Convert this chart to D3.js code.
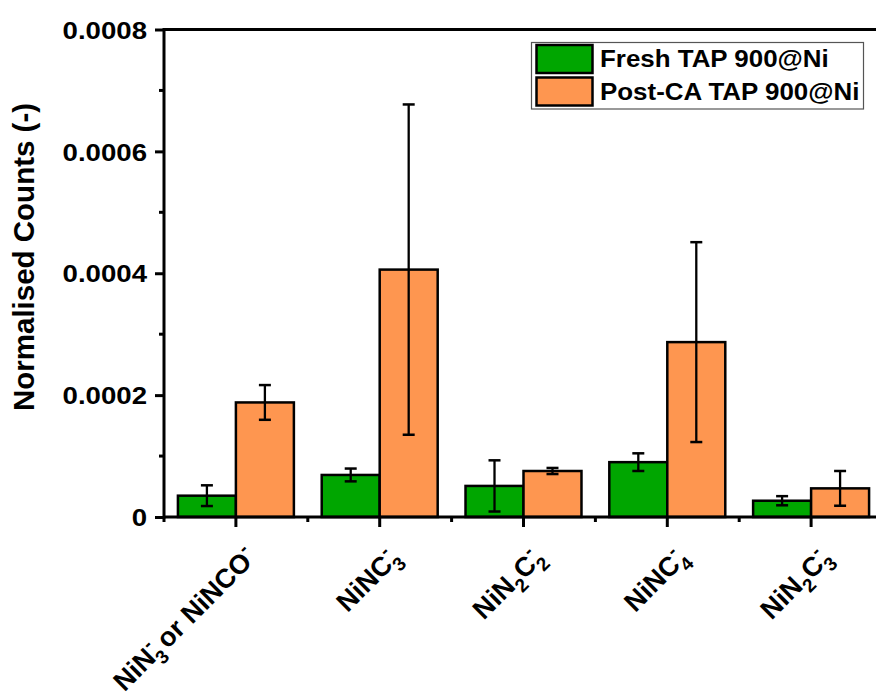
<!DOCTYPE html>
<html>
<head>
<meta charset="utf-8">
<script src="https://cdn.jsdelivr.net/npm/d3@7"></script>
<style>
  body { margin: 0; background: #fff; }
  svg { display: block; font-family: "Liberation Sans", Arial, sans-serif; font-weight: bold; }
</style>
</head>
<body>
<svg id="chart" width="876" height="697"></svg>
<script>
// categories and the pieces of each label: [text, "" | "sub" | "sup"]
const categories = ["NiN3- or NiNCO-", "NiNC3-", "NiN2C2-", "NiNC4-", "NiN2C3-"];
const labelParts = [
  [["NiN", ""], ["3", "sub"], ["-", "sup"], [" or NiNCO", ""], ["-", "sup"]],
  [["NiNC", ""], ["3", "sub"], ["-", "sup"]],
  [["NiN", ""], ["2", "sub"], ["C", ""], ["2", "sub"], ["-", "sup"]],
  [["NiNC", ""], ["4", "sub"], ["-", "sup"]],
  [["NiN", ""], ["2", "sub"], ["C", ""], ["3", "sub"], ["-", "sup"]]
];
const series = ["Fresh TAP 900@Ni", "Post-CA TAP 900@Ni"];
const freshValues = [0.000035, 0.000069, 0.000051, 0.000090, 0.0000267];
const freshErrors = [0.000017, 0.0000105, 0.000042, 0.0000145, 0.0000075];
const postValues = [0.000188, 0.000406, 0.0000755, 0.000287, 0.000047];
const postErrors = [0.0000285, 0.000271, 0.000005, 0.000164, 0.0000285];
const yTicks = [0, 0.0002, 0.0004, 0.0006, 0.0008];
const colors = ["#00a600", "#fe9650"];

const svg = d3.select("#chart");
const mLeft = 164, mBottom = 517, mTop = 29.5;

const x = d3.scaleBand().domain(categories).range([mLeft, mLeft + 5 * 143.8]);
const xs = d3.scaleBand().domain(series).range([0, x.bandwidth()]).paddingOuter(0.24);
const y = d3.scaleLinear().domain([0, 0.0008]).range([mBottom, mTop]);

const rows = categories.map((c, i) => ({
  cat: c,
  vals: [
    {s: series[0], v: freshValues[i], e: freshErrors[i]},
    {s: series[1], v: postValues[i], e: postErrors[i]}
  ]
}));

// bars
const groups = svg.selectAll("g.grp").data(rows).enter().append("g")
  .attr("transform", d => "translate(" + x(d.cat) + ",0)");
groups.selectAll("rect").data(d => d.vals).enter().append("rect")
  .attr("x", d => xs(d.s))
  .attr("y", d => y(d.v))
  .attr("width", xs.bandwidth())
  .attr("height", d => mBottom - y(d.v))
  .attr("fill", (d, i) => colors[i])
  .attr("stroke", "#000")
  .attr("stroke-width", 2.5);

// error bars
const eb = groups.selectAll("g.err").data(d => d.vals).enter().append("g")
  .attr("stroke", "#000").attr("stroke-width", 2.3);
const cxOf = d => xs(d.s) + xs.bandwidth() / 2;
eb.append("line")
  .attr("x1", cxOf).attr("x2", cxOf)
  .attr("y1", d => y(d.v + d.e)).attr("y2", d => y(d.v - d.e));
[1, -1].forEach(sg => {
  eb.append("line")
    .attr("x1", d => cxOf(d) - 6).attr("x2", d => cxOf(d) + 6)
    .attr("y1", d => y(d.v + sg * d.e)).attr("y2", d => y(d.v + sg * d.e))
    .attr("stroke-width", 2.5);
});

// y axis
const yAxis = svg.append("g").attr("transform", "translate(" + mLeft + ",0)")
  .call(d3.axisLeft(y).tickValues(yTicks).tickSize(9).tickPadding(8)
    .tickFormat(d => d === 0 ? "0" : d3.format(".4f")(d)));
yAxis.select(".domain").remove();
yAxis.selectAll(".tick line").attr("stroke-width", 3);
yAxis.selectAll(".tick text")
  .attr("font-size", 24).attr("font-family", null).attr("fill", "#000")
  .attr("x", -17 / 1.15).attr("dy", "0.36em")
  .attr("transform", "scale(1.15,1)");
// minor y ticks
svg.append("g").selectAll("line").data([0.0001, 0.0003, 0.0005, 0.0007]).enter().append("line")
  .attr("x1", mLeft - 5).attr("x2", mLeft).attr("y1", d => y(d)).attr("y2", d => y(d))
  .attr("stroke", "#000").attr("stroke-width", 3);

// x axis ticks
const xAxis = svg.append("g").attr("transform", "translate(0," + mBottom + ")")
  .call(d3.axisBottom(x).tickSize(10).tickFormat(""));
xAxis.select(".domain").remove();
xAxis.selectAll(".tick line").attr("stroke-width", 3);
svg.append("g").selectAll("line").data(categories).enter().append("line")
  .attr("x1", d => x(d)).attr("x2", d => x(d)).attr("y1", mBottom).attr("y2", mBottom + 5)
  .attr("stroke", "#000").attr("stroke-width", 3);

// frame lines
svg.append("line").attr("x1", mLeft).attr("x2", 880).attr("y1", mBottom).attr("y2", mBottom)
  .attr("stroke", "#000").attr("stroke-width", 3);
svg.append("line").attr("x1", mLeft).attr("x2", mLeft).attr("y1", mTop - 1.5).attr("y2", mBottom + 1.5)
  .attr("stroke", "#000").attr("stroke-width", 3);
svg.append("line").attr("x1", mLeft).attr("x2", 880).attr("y1", mTop).attr("y2", mTop)
  .attr("stroke", "#000").attr("stroke-width", 3);

// x labels, rotated, with stacked sub/superscripts
rows.forEach((r, i) => {
  const cx = x(r.cat) + x.bandwidth() / 2;
  const t = svg.append("text")
    .attr("text-anchor", "end")
    .attr("font-size", 27)
    .attr("transform", "translate(" + (cx + 22) + "," + (mBottom + 42) + ") rotate(-45)");
  let cur = 0, prevSub = false;
  labelParts[i].forEach(p => {
    const ts = t.append("tspan").text(p[0]);
    let dy;
    if (p[1] === "sub") {
      ts.attr("font-size", 19);
      dy = 8 - cur;
      prevSub = true;
    } else if (p[1] === "sup") {
      ts.attr("font-size", 19);
      dy = -12 - cur;
      if (prevSub) ts.attr("dx", -10);
      prevSub = false;
    } else {
      dy = -cur;
      prevSub = false;
    }
    ts.attr("dy", dy);
    cur += dy;
  });
});

// y title
svg.append("text")
  .attr("transform", "translate(34,257) rotate(-90)")
  .attr("text-anchor", "middle")
  .attr("font-size", 29.5)
  .text("Normalised Counts (-)");

// legend
const lg = svg.append("g");
lg.append("rect").attr("x", 531.5).attr("y", 42.5).attr("width", 332).attr("height", 66.5)
  .attr("fill", "#fff").attr("stroke", "#555").attr("stroke-width", 1.2);
series.forEach((s, i) => {
  lg.append("rect").attr("x", 536.5).attr("y", 45 + i * 32.5).attr("width", 56).attr("height", 28)
    .attr("fill", colors[i]).attr("stroke", "#000").attr("stroke-width", 2.5);
  lg.append("text").attr("x", 600).attr("y", 67 + i * 33).attr("font-size", 24)
    .attr("transform", "translate(600,0) scale(1.08,1) translate(-600,0)")
    .text(s);
});
</script>
</body>
</html>
